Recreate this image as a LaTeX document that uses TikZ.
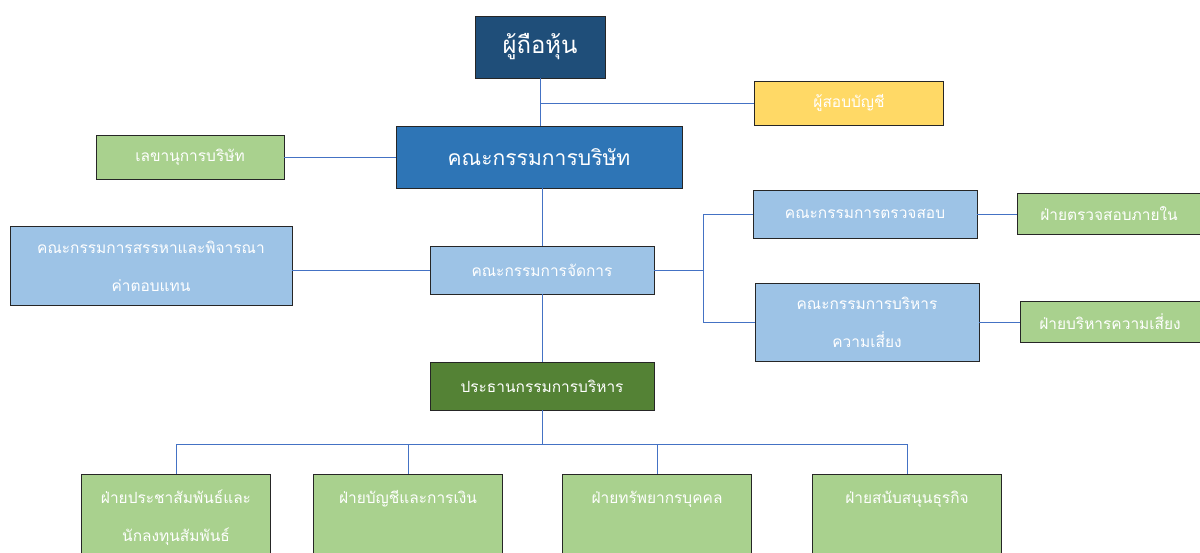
\documentclass[tikz,border=0pt]{standalone}
\usepackage{fontspec}
\newfontfamily\thaifont[Script=Thai]{Loma}
\definecolor{navy}{HTML}{1F4E79}
\definecolor{boardblue}{HTML}{2E75B6}
\definecolor{paleblue}{HTML}{9DC3E6}
\definecolor{palegreen}{HTML}{A9D18E}
\definecolor{darkgreen}{HTML}{548235}
\definecolor{gold}{HTML}{FFD966}
\definecolor{linkblue}{HTML}{4472C4}

\begin{document}
\begin{tikzpicture}[x=0.025cm,y=-0.025cm,
   every node/.style={draw=black!85,line width=0.6pt,text=white,align=center,
      font=\thaifont\fontsize{11}{27}\selectfont},
   unit/.style={fill=paleblue,minimum width=5.6cm,minimum height=1.2cm},
   dept/.style={fill=palegreen,minimum width=4.7cm,minimum height=1.1cm},
   branch/.style={dept,anchor=north,text height=0.6cm,text depth=1.45cm},
   link/.style={draw=linkblue,line width=0.7pt}]

\clip (0,0) rectangle (1200,552);

\node[fill=navy,minimum width=3.25cm,minimum height=1.55cm,font=\thaifont\fontsize{17}{20}\selectfont] (holder) at (540,47) {ผู้ถือหุ้น};
\node[fill=gold,minimum width=4.725cm,minimum height=1.1cm] (auditor) at (849,103) {ผู้สอบบัญชี};
\node[fill=boardblue,minimum width=7.15cm,minimum height=1.55cm,font=\thaifont\fontsize{15}{18}\selectfont] (board) at (539,157) {คณะกรรมการบริษัท};
\node[dept] (secretary) at (190,157) {เลขานุการบริษัท};
\node[unit,minimum width=7.05cm,minimum height=1.975cm] (nomination) at (151,266) {คณะกรรมการสรรหาและพิจารณา\\ค่าตอบแทน};
\node[unit] (manage) at (542,270) {คณะกรรมการจัดการ};
\node[unit] (audit) at (865,214) {คณะกรรมการตรวจสอบ};
\node[dept,minimum width=4.6cm,minimum height=1.025cm] (internal) at (1109,214) {ฝ่ายตรวจสอบภายใน};
\node[unit,minimum height=1.95cm] (risk) at (867,322) {คณะกรรมการบริหาร\\ความเสี่ยง};
\node[dept,minimum width=4.5cm,minimum height=1.025cm] (riskdept) at (1110,322) {ฝ่ายบริหารความเสี่ยง};
\node[unit,fill=darkgreen] (president) at (542,386) {ประธานกรรมการบริหาร};

% departments under the president
\node[branch] (relations) at (176,474) {\parbox[t]{4.5cm}{\centering ฝ่ายประชาสัมพันธ์และ\\นักลงทุนสัมพันธ์}};
\node[branch] (finance) at (408,474) {\parbox[t]{4.5cm}{\centering ฝ่ายบัญชีและการเงิน}};
\node[branch] (people) at (657,474) {\parbox[t]{4.5cm}{\centering ฝ่ายทรัพยากรบุคคล}};
\node[branch] (support) at (907,474) {\parbox[t]{4.5cm}{\centering ฝ่ายสนับสนุนธุรกิจ}};

\coordinate (split) at (703,270);
\coordinate (bus) at (542,444);

\draw[link] (holder) -- (holder |- board.north);
\draw[link] (auditor) -- (auditor -| holder);
\draw[link] (secretary) -- (board);
\draw[link] (board.south -| manage) -- (manage);
\draw[link] (nomination.east |- manage) -- (manage);
\draw[link] (manage) -- (split) |- (audit);
\draw[link] (split) |- (risk);
\draw[link] (audit) -- (internal);
\draw[link] (risk) -- (riskdept);
\draw[link] (manage) -- (president);
\draw[link] (president) -- (bus);
\foreach \d in {relations,finance,people,support}
  \draw[link] (bus) -| (\d.north);

\end{tikzpicture}
\end{document}
